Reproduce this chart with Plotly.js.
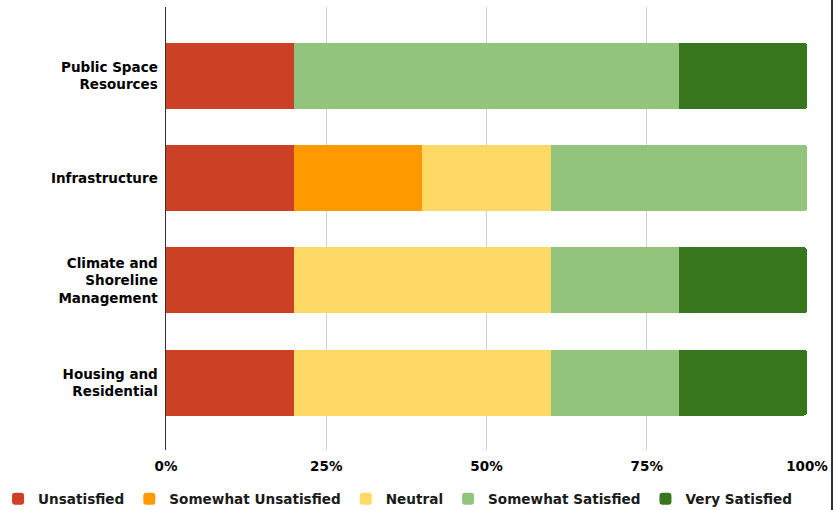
<!DOCTYPE html>
<html>
<head>
<meta charset="utf-8">
<script src="https://cdn.plot.ly/plotly-3.0.1.min.js"></script>
<style>html,body{margin:0;padding:0;background:#fff;}#chart{width:837px;height:510px;}</style>
</head>
<body>
<div id="chart"></div>
<script>
const categories = ["Public Space<br>Resources", "Infrastructure", "Climate and<br>Shoreline<br>Management", "Housing and<br>Residential"];
const seriesNames = ["Unsatisfied", "Somewhat Unsatisfied", "Neutral", "Somewhat Satisfied", "Very Satisfied"];
const unsatisfied = [20, 20, 20, 20];
const somewhatUnsatisfied = [0, 20, 0, 0];
const neutral = [0, 20, 40, 40];
const somewhatSatisfied = [60, 40, 20, 20];
const verySatisfied = [20, 0, 20, 20];
const xTickValues = [0, 25, 50, 75, 100];
const xTickLabels = ["0%", "25%", "50%", "75%", "100%"];

const colors = ["#cc4125", "#ff9900", "#ffd966", "#93c47d", "#38761d"];
const allSeries = [unsatisfied, somewhatUnsatisfied, neutral, somewhatSatisfied, verySatisfied];
const FONT = "DejaVu Sans, Liberation Sans, Arial, sans-serif";

const traces = allSeries.map((vals, i) => ({
  type: "bar",
  orientation: "h",
  name: seriesNames[i],
  x: vals,
  y: categories,
  marker: {color: colors[i], line: {width: 0}},
  hoverinfo: "x+name"
}));

const layout = {
  width: 837,
  height: 510,
  margin: {l: 166, r: 30, t: 7, b: 60, autoexpand: false},
  paper_bgcolor: "#ffffff",
  plot_bgcolor: "#ffffff",
  barmode: "stack",
  bargap: 0.354,
  barcornerradius: 3,
  font: {family: FONT, size: 13.5, color: "#000000", weight: "bold"},
  xaxis: {
    range: [0, 100],
    tickvals: xTickValues,
    ticktext: xTickLabels,
    showgrid: true,
    gridcolor: "#d0d0d0",
    gridwidth: 1,
    zeroline: false,
    showline: false,
    ticks: "",
    ticklabelstandoff: 6,
    tickfont: {family: FONT, size: 13.5, color: "#000000", weight: "bold"},
    fixedrange: true
  },
  yaxis: {
    type: "category",
    categoryorder: "array",
    categoryarray: categories,
    range: [3.66, -0.675],
    showgrid: false,
    zeroline: false,
    showline: true,
    linecolor: "#333333",
    linewidth: 1.5,
    ticks: "",
    ticklabelstandoff: 4,
    tickfont: {family: FONT, size: 13.5, color: "#000000", weight: "bold"},
    fixedrange: true
  },
  legend: {
    orientation: "h",
    x: -0.262,
    xanchor: "left",
    y: -0.1106,
    yanchor: "middle",
    traceorder: "normal",
    font: {family: FONT, size: 13.6, color: "#1a1a1a", weight: "bold"},
    bgcolor: "rgba(0,0,0,0)"
  },
  shapes: [{
    type: "line", xref: "paper", yref: "paper",
    x0: 1.039, x1: 1.039, y0: -0.2, y1: 1.02,
    line: {color: "#333333", width: 2}
  }],
  showlegend: true
};

Plotly.newPlot("chart", traces, layout, {displayModeBar: false, staticPlot: true});
</script>
</body>
</html>
